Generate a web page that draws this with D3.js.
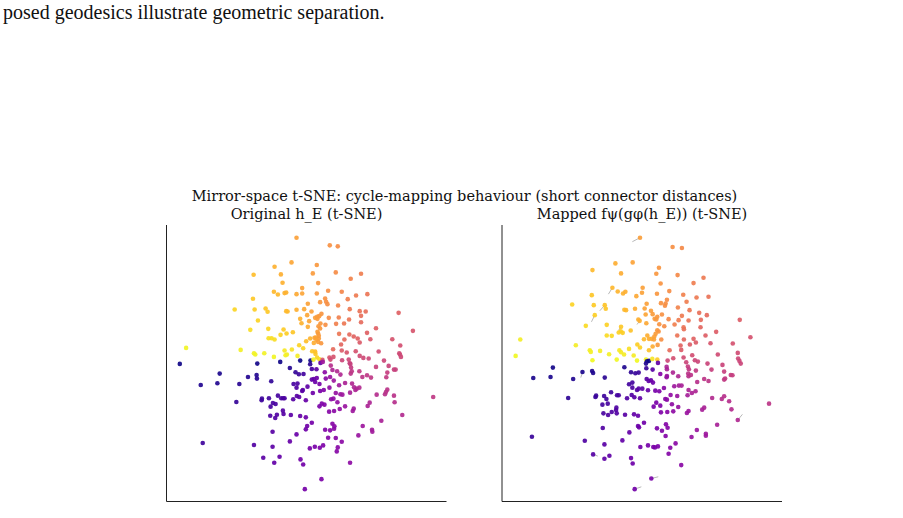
<!DOCTYPE html>
<html>
<head>
<meta charset="utf-8">
<script src="https://cdn.jsdelivr.net/npm/d3@7"></script>
<style>
  body { margin: 0; background: #fff; }
</style>
</head>
<body>
<div id="chart"></div>
<script>
const pageText = "posed geodesics illustrate geometric separation.";
const figTitle = "Mirror-space t-SNE: cycle-mapping behaviour (short connector distances)";
const panelTitles = ["Original h_E (t-SNE)", "Mapped f\u03c8(g\u03c6(h_E)) (t-SNE)"];

// t-SNE embedding coordinates (arbitrary units, second dim grows downward)
const origPts = [
  [409,-97],[509,-74],[533,-71],[394,-23],[343,-10],[470,-15],
  [280,14],[362,13],[458,10],[527,7],[603,11],[572,26],[367,38],[474,39],
  [426,54],[341,65],[353,73],[373,69],[378,67],[409,72],[426,70],[470,70],[504,62],[545,65],[588,76],[622,72],
  [278,86],[495,85],[480,96],[498,95],[502,102],[563,87],[443,101],
  [534,106],[223,118],[283,118],[316,115],[322,125],[378,123],[382,124],[409,119],[432,117],[454,124],[569,117],[599,123],[617,124],
  [441,135],[484,131],[477,138],[472,146],[506,143],[536,142],[567,148],[603,137],[716,128],
  [293,151],[420,146],[447,153],[465,143],[471,140],[481,160],[496,164],[528,161],[552,160],[424,159],[603,156],
  [443,170],[475,168],[480,175],[324,176],[370,178],[270,179],[648,174],[759,182],[621,188],[581,199],
  [379,190],[398,186],[361,194],[472,185],[474,190],[537,191],[568,193],[476,197],
  [325,204],[334,204],[343,208],[463,203],[450,205],[467,202],[476,205],[469,209],[438,213],[553,208],[593,205],[631,207],[697,207],[599,217],
  [417,225],[461,218],[474,215],[483,219],[543,223],[721,226],
  [77,233],[241,239],[429,234],[373,241],[395,238],[519,237],[545,241],[465,244],[456,243],[560,247],[587,243],[656,244],[718,249],
  [281,249],[285,253],[312,249],[380,253],[376,255],[412,257],[466,251],[471,262],[508,262],[520,260],[546,270],[566,268],[599,257],[610,263],[626,265],[723,260],[720,253],
  [341,260],[420,271],[451,271],[460,268],[478,267],[487,269],[511,268],[569,279],[571,281],[672,271],
  [58,281],[291,280],[360,275],[450,282],[481,278],[488,275],[512,286],[573,292],[648,290],[686,287],
  [389,293],[406,306],[416,312],[430,311],[455,296],[469,297],[494,306],[517,299],[531,303],[598,303],[702,298],[707,298],[682,307],
  [178,310],[289,314],[263,320],[290,325],[333,333],[455,328],[461,326],[470,323],[497,325],[510,320],[541,313],[572,310],[575,303],[607,320],[621,315],[633,322],[679,321],
  [171,339],[237,341],[400,341],[412,340],[409,352],[465,335],[478,341],[521,331],[537,345],[555,338],[576,340],
  [121,344],[442,349],[428,359],[426,362],[458,368],[480,362],[491,359],[508,352],[527,368],[541,372],[570,367],[582,351],[590,355],[598,352],[650,373],[675,372],[682,358],[678,365],
  [353,376],[369,384],[363,384],[373,384],[410,377],[417,380],[399,387],[437,390],[305,385],[326,384],[304,390],[520,385],[513,387],[532,396],[547,373],[586,359],
  [228,395],[338,398],[346,401],[331,409],[485,400],[478,408],[493,403],[555,408],[581,415],[578,422],[623,407],[629,397],[702,376],[704,396],
  [368,421],[370,431],[392,434],[330,436],[350,433],[345,443],[420,437],[437,441],[507,424],[522,422],[539,416],[727,434],
  [455,457],[517,460],[523,468],[522,475],[510,480],[495,478],[441,467],[437,477],[608,467],[664,451],[636,478],[637,484],
  [337,484],[409,492],[504,502],[527,503],[595,495],
  [389,513],[545,514],[127,518],[281,524],[337,529],[449,534],[464,529],[479,532],[489,525],[533,531],[530,543],
  [309,562],[358,559],[421,567],[342,577],[429,582],[570,577],
  [484,626],[434,656],[820,380]
];

const mappedPts = [
  [433,-97],[531,-69],[559,-66],[359,-20],[411,-23],[490,-7],
  [290,0],[376,10],[482,11],[546,15],[624,23],[594,39],[495,40],
  [350,53],[441,53],[366,64],[382,70],[389,65],[439,68],[422,78],[484,71],[521,63],[563,74],[603,82],[639,80],
  [288,75],[514,89],[496,99],[510,100],[508,107],[573,95],[453,101],
  [229,103],[294,105],[327,105],[330,116],[386,119],[391,120],[418,116],[447,115],[466,122],[547,112],[582,120],[611,128],[634,135],
  [297,135],[450,133],[471,132],[499,133],[485,140],[477,146],[482,148],[519,147],[549,150],[559,137],[579,151],[616,149],[733,149],
  [270,167],[333,164],[376,170],[375,183],[369,187],[381,188],[405,181],[428,148],[432,152],[452,159],[491,162],[506,168],[537,163],[564,171],[565,177],[615,171],[662,185],
  [333,196],[348,197],[485,180],[489,184],[480,191],[476,199],[455,196],[468,206],[445,207],[460,206],[475,208],[497,208],[545,196],[565,208],[594,206],[601,217],[630,196],[765,201],
  [73,208],[240,225],[282,240],[285,245],[313,242],[340,252],[371,240],[376,246],[385,253],[400,236],[414,256],[425,223],[433,232],[460,240],[471,229],[486,224],[555,226],[583,223],[557,239],[522,240],[645,219],[712,220],
  [59,257],[290,270],[363,268],[424,271],[451,268],[454,273],[460,272],[485,268],[487,278],[470,266],[516,271],[533,264],[564,262],[572,276],[590,255],[598,270],[607,274],[636,280],[667,253],[727,248],[728,265],[732,272],[736,280],
  [171,292],[260,305],[289,302],[292,308],[386,291],[451,280],[452,294],[471,298],[513,290],[514,297],[532,307],[577,289],[580,297],[578,310],[579,318],[586,314],[601,301],[648,298],[681,284],[686,304],[706,314],[711,315],
  [112,323],[164,320],[232,326],[327,322],[406,306],[419,309],[429,307],[453,326],[459,332],[466,330],[472,337],[494,311],[514,317],[513,321],[548,318],[605,335],[626,326],[639,332],[686,328],[689,325],
  [400,342],[410,337],[410,352],[424,359],[429,355],[440,355],[457,360],[479,361],[491,363],[505,353],[536,348],[550,346],[558,346],[579,359],[589,368],[600,363],
  [346,366],[364,375],[369,375],[301,376],[299,380],[325,377],[332,386],[408,374],[416,381],[394,384],[433,384],[525,374],[545,377],[576,375],[650,383],[679,386],[686,378],[701,393],
  [217,383],[320,403],[336,400],[362,412],[361,419],[348,425],[363,429],[323,429],[337,434],[388,433],[415,432],[427,436],[474,409],[482,397],[494,406],[509,386],[514,388],[529,402],[548,410],[579,422],[574,428],[496,426],[515,425],[533,423],[620,418],[626,412],[708,417],[727,449],[821,400],
  [445,457],[427,467],[430,471],[484,474],[499,481],[511,462],[516,472],[510,497],[401,486],[321,473],[604,479],[631,490],[631,496],[588,500],[665,463],
  [108,499],[267,511],[326,522],[380,510],[434,530],[457,525],[473,530],[478,531],[487,528],[540,519],[524,532],[519,550],
  [292,552],[326,565],[341,556],[406,563],[411,579],[557,584],
  [467,624],[417,656]
];

// short grey connectors (from start position to mapped point), same units
const connectors = [
  [410,-85,433,-97],[338,72,350,53],[312,122,327,105],[287,155,297,135],[424,163,432,152],
  [369,180,375,170],[255,322,260,305],[741,432,727,449],[488,619,467,624],[437,649,417,656],[306,557,292,552]
];

// centre of the cycle in each embedding, colour = angle around it
const cycleCentres = [[485,270],[490,272]];

const W = 903, H = 518;
const svg = d3.select('#chart').append('svg')
  .attr('width', W)
  .attr('height', H)
  .style('background', '#fff');

// stray line from the surrounding page text
svg.append('text')
  .attr('x', 3)
  .attr('y', 19)
  .attr('font-family', '"Liberation Serif", "Times New Roman", serif')
  .attr('font-size', '20px')
  .attr('fill', '#111')
  .text(pageText);

const serif = '"DejaVu Serif", serif';

svg.append('text')
  .attr('x', 464.5)
  .attr('y', 201)
  .attr('text-anchor', 'middle')
  .attr('font-family', serif)
  .attr('font-size', '14.5px')
  .attr('fill', '#111')
  .text(figTitle);

const panels = [
  { x0: 166.5, pts: origPts, title: panelTitles[0], centre: cycleCentres[0], links: [] },
  { x0: 502, pts: mappedPts, title: panelTitles[1], centre: cycleCentres[1], links: connectors }
];
const panelW = 280, axTop = 225, axBottom = 501.5;

function colourT(p, c) {
  const theta = Math.atan2(-(p[1] - c[1]), p[0] - c[0]) * 180 / Math.PI;
  return (((theta - 180) % 360) + 360) % 360 / 360;
}

panels.forEach(pn => {
  const x = d3.scaleLinear().domain([18, 860]).range([pn.x0, pn.x0 + panelW]);
  const y = d3.scaleLinear().domain([-135, 693]).range([axTop, axBottom]);

  const g = svg.append('g');

  g.append('text')
    .attr('x', pn.x0 + panelW / 2)
    .attr('y', 219)
    .attr('text-anchor', 'middle')
    .attr('font-family', serif)
    .attr('font-size', '14.5px')
    .attr('fill', '#111')
    .text(pn.title);

  g.selectAll('line.link')
    .data(pn.links)
    .join('line')
    .attr('class', 'link')
    .attr('x1', d => x(d[0])).attr('y1', d => y(d[1]))
    .attr('x2', d => x(d[2])).attr('y2', d => y(d[3]))
    .attr('stroke', '#999')
    .attr('stroke-width', 0.7);

  g.selectAll('circle')
    .data(pn.pts)
    .join('circle')
    .attr('cx', d => x(d[0]))
    .attr('cy', d => y(d[1]))
    .attr('r', 2.3)
    .attr('fill', d => d3.interpolatePlasma(colourT(d, pn.centre)))
    .attr('opacity', 0.92);

  // only left and bottom spines
  g.append('line')
    .attr('x1', pn.x0).attr('x2', pn.x0)
    .attr('y1', axTop).attr('y2', axBottom)
    .attr('stroke', '#222').attr('stroke-width', 1);
  g.append('line')
    .attr('x1', pn.x0).attr('x2', pn.x0 + panelW)
    .attr('y1', axBottom).attr('y2', axBottom)
    .attr('stroke', '#222').attr('stroke-width', 1);
});
</script>
</body>
</html>
